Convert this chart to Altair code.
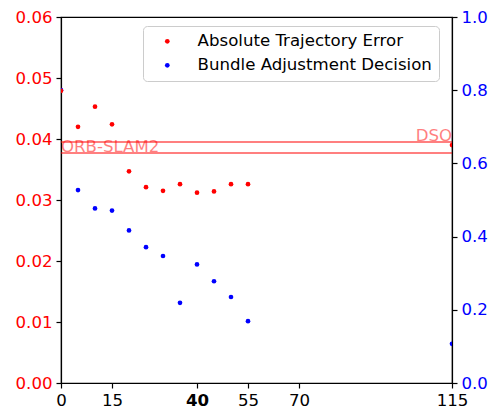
import altair as alt
import pandas as pd

# ---- data ----
x_vals = [0, 5, 10, 15, 20, 25, 30, 35, 40, 45, 50, 55, 115]
ate_vals = [0.0479, 0.0420, 0.0453, 0.0424, 0.0347, 0.0321, 0.0315, 0.0326,
            0.0312, 0.0314, 0.0326, 0.0326, 0.0390]
bad_vals = [0.800, 0.527, 0.477, 0.471, 0.417, 0.371, 0.347, 0.219,
            0.324, 0.278, 0.235, 0.169, 0.107]
series_names = ["Absolute Trajectory Error", "Bundle Adjustment Decision"]
series_colors = ["#ff0000", "#0000ff"]
baseline_names = ["DSO", "ORB-SLAM2"]
baseline_vals = [0.0395, 0.0377]
baseline_x = [115, 0]
x_ticks = [0, 15, 40, 55, 70, 115]
left_ticks = [0.00, 0.01, 0.02, 0.03, 0.04, 0.05, 0.06]
right_ticks = [0.0, 0.2, 0.4, 0.6, 0.8, 1.0]

FONT = "DejaVu Sans"
FS = 16.6

df = pd.DataFrame({
    "x": x_vals * 2,
    "v": ate_vals + bad_vals,
    "series": [series_names[0]] * len(x_vals) + [series_names[1]] * len(x_vals),
})
base_df = pd.DataFrame({"name": baseline_names, "v": baseline_vals, "x": baseline_x})

xscale = alt.Scale(domain=[0, 115], nice=False, zero=False)
xaxis = alt.Axis(values=x_ticks, labelFontWeight=alt.expr("datum.value == 40 ? 'bold' : 'normal'"),
                 grid=False, title=None, labelColor="black", labelFlush=False,
                 labelOverlap=False)
color = alt.Color("series:N",
                  scale=alt.Scale(domain=series_names, range=series_colors),
                  legend=alt.Legend(title=None, orient="none", legendX=82, legendY=9,
                                    fillColor="white", strokeColor="#cccccc",
                                    cornerRadius=4, padding=7, symbolOffset=9,
                                    labelOffset=22, rowPadding=7, symbolSize=22,
                                    symbolType="circle", labelFont=FONT,
                                    labelFontSize=FS, labelColor="black",
                                    labelLimit=400, symbolStrokeWidth=0))

yleft_scale = alt.Scale(domain=[0, 0.06], nice=False)
yleft_axis = alt.Axis(values=left_ticks, format=".2f", labelColor="#ff0000",
                      grid=False, title=None, orient="left")

red_pts = alt.Chart(df).transform_filter(
    alt.datum.series == series_names[0]
).mark_circle(size=22, opacity=1, clip=True).encode(
    x=alt.X("x:Q", scale=xscale, axis=xaxis),
    y=alt.Y("v:Q", scale=yleft_scale, axis=yleft_axis),
    color=color,
)

rules = alt.Chart(base_df).mark_rule(color="#ff0000", opacity=0.5, strokeWidth=2).encode(
    y=alt.Y("v:Q", scale=yleft_scale, axis=yleft_axis),
)

txt_right = alt.Chart(base_df).transform_filter(
    alt.datum.name == "DSO"
).mark_text(align="right", baseline="alphabetic", color="#ff0000", opacity=0.5,
            font=FONT, fontSize=FS, dy=-1).encode(
    x=alt.X("x:Q", scale=xscale, axis=xaxis),
    y=alt.Y("v:Q", scale=yleft_scale, axis=yleft_axis),
    text="name:N",
)
txt_left = alt.Chart(base_df).transform_filter(
    alt.datum.name == "ORB-SLAM2"
).mark_text(align="left", baseline="alphabetic", color="#ff0000", opacity=0.5,
            font=FONT, fontSize=FS, dy=-1).encode(
    x=alt.X("x:Q", scale=xscale, axis=xaxis),
    y=alt.Y("v:Q", scale=yleft_scale, axis=yleft_axis),
    text="name:N",
)

left_layer = alt.layer(rules, txt_right, txt_left, red_pts)

blue_pts = alt.Chart(df).transform_filter(
    alt.datum.series == series_names[1]
).mark_circle(size=22, opacity=1, clip=True).encode(
    x=alt.X("x:Q", scale=xscale, axis=xaxis),
    y=alt.Y("v:Q", scale=alt.Scale(domain=[0, 1], nice=False),
            axis=alt.Axis(values=right_ticks, format=".1f", labelColor="#0000ff",
                          grid=False, title=None, orient="right")),
    color=color,
)

chart = alt.layer(blue_pts, left_layer).resolve_scale(y="independent").properties(
    width=391, height=366,
    background="white",
    autosize=alt.AutoSizeParams(type="none"),
    padding={"left": 61, "top": 17, "right": 43, "bottom": 31},
).configure_view(
    stroke="black", strokeWidth=1.2
).configure_axis(
    labelFont=FONT, labelFontSize=FS, domainColor="black", tickColor="black",
    domainWidth=1.2, tickWidth=1.2, tickSize=5, labelPadding=4
)

chart.save("out.html", embed_options={"renderer": "svg", "actions": False})
